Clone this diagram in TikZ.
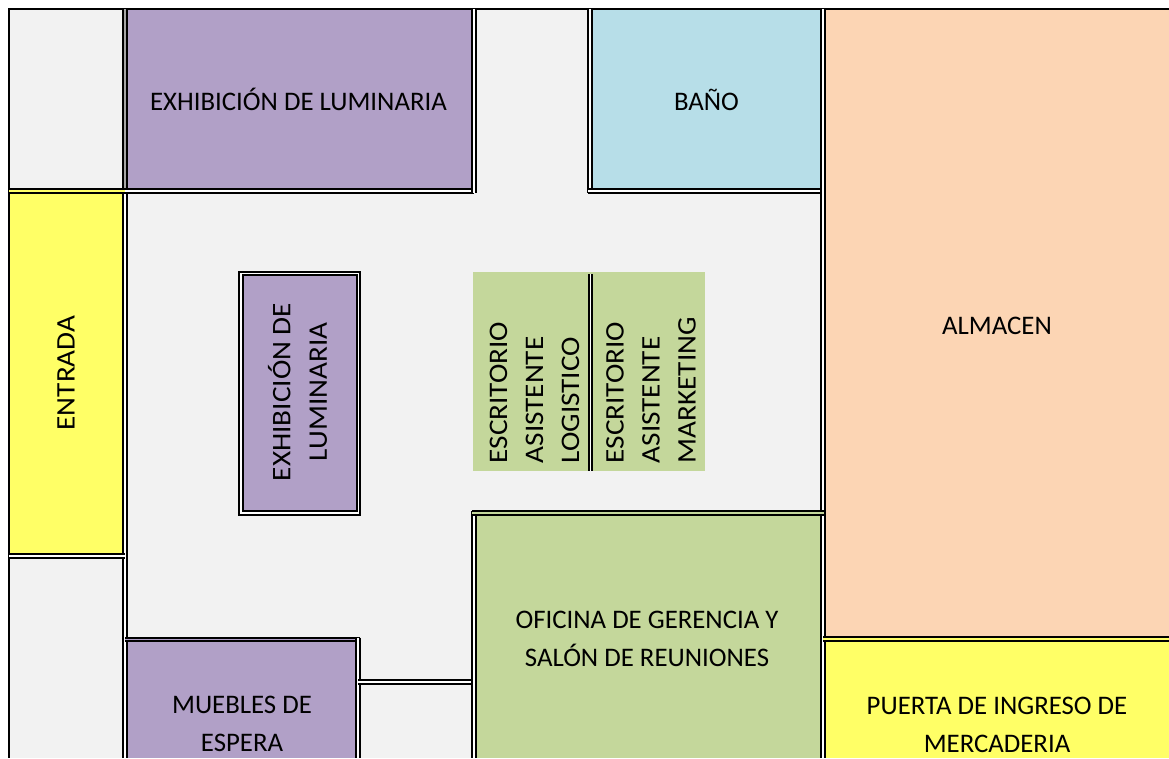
\documentclass[tikz,border=0pt]{standalone}
\usepackage{fontspec}
\setmainfont{Carlito}
\newfontfamily\stretchedfont[FakeStretch=1.09]{Carlito}
\definecolor{cGray}{HTML}{F2F2F2}
\definecolor{cPurple}{HTML}{B1A0C7}
\definecolor{cBlue}{HTML}{B7DEE8}
\definecolor{cPeach}{HTML}{FCD5B4}
\definecolor{cYellow}{HTML}{FFFF66}
\definecolor{cGreen}{HTML}{C4D79B}
\tikzset{
  dbl/.style={draw=black,line width=2pt,double=white,double distance=1.5pt},
  sgl/.style={draw=black,line width=2.2pt},
  lbl/.style={font=\fontsize{26.8}{38}\selectfont,text=black,align=center,inner sep=0pt},
  lblv/.style={font=\stretchedfont\fontsize{26.8}{36.5}\selectfont,text=black,align=center,inner sep=0pt,rotate=90},
  lbll/.style={font=\stretchedfont\fontsize{26.8}{36}\selectfont,text=black,align=left,inner sep=0pt,rotate=90}
}
\begin{document}
\begin{tikzpicture}[x=1pt,y=-1pt]
\useasboundingbox (0,0) rectangle (1169,758);
\clip (0,0) rectangle (1169,758);
% fills
\fill[cGray] (9,9) rectangle (1169,758);
\fill[cPurple] (125,9) rectangle (474,191);
\fill[cBlue] (590,9) rectangle (823,191);
\fill[cPeach] (823,9) rectangle (1169,639);
\fill[cYellow] (9,191) rectangle (125,556);
\fill[cYellow] (823,639) rectangle (1169,758);
\fill[cGreen] (474,513) rectangle (823,758);
\fill[cPurple] (125,639) rectangle (358,758);
\fill[cGreen] (472.7,272) rectangle (705,471);
\fill[cPurple] (241,273.5) rectangle (358.5,513);
% walls
\draw[sgl] (1169,9) -- (9,9) -- (9,758);
\draw[dbl,double=black!35] (124.9,9) -- (124.9,191);
\draw[dbl] (124.9,191) -- (124.9,758);
\draw[dbl,double=cYellow] (9,191) -- (125,191);
\draw[dbl] (125,191) -- (474,191);
\draw[dbl] (474,9) -- (474,192.8);
\draw[dbl] (590,9) -- (590,192.8);
\draw[dbl] (588.2,191) -- (823,191);
\draw[dbl] (823,9) -- (823,758);
\draw[dbl] (9,556) -- (125,556);
\draw[dbl,double=cPurple] (125,639.3) -- (360,639.3);
\draw[dbl] (358,637.5) -- (358,758);
\draw[dbl] (358,682) -- (474,682);
\draw[dbl] (474,511.2) -- (474,758);
\draw[dbl,double=cGreen] (472.2,513) -- (824,513);
\draw[dbl,double=cYellow] (823,638.8) -- (1169,638.8);
\draw[dbl] (241,273.5) rectangle (358.5,513);
\draw[dbl] (590.3,274) -- (590.3,471);
% labels
\node[lbl] (expa) at (298.5,99.5) {EXHIBICIÓN DE LUMINARIA};
\node[lbl] (bano) at (706.5,99.5) {BAÑO};
\node[lbl] (alma) at (997,326) {ALMACEN};
\node[lblv] (entr) at (66,373) {ENTRADA};
\node[lblv] (exce) at (297.5,392) {EXHIBICIÓN DE\\LUMINARIA};
\node[lbll,anchor=west] (dlog) at (534.5,463.5) {ESCRITORIO\\ASISTENTE\\LOGISTICO};
\node[lbll,anchor=west] (dmkt) at (651,463.5) {ESCRITORIO\\ASISTENTE\\MARKETING};
\node[lbl] (ofic) at (647,639) {OFICINA DE GERENCIA Y\\SALÓN DE REUNIONES};
\node[lbl] (mueb) at (242,723.5) {MUEBLES DE\\ESPERA};
\node[lbl] (puer) at (997,725) {PUERTA DE INGRESO DE\\MERCADERIA};
\end{tikzpicture}
\end{document}
